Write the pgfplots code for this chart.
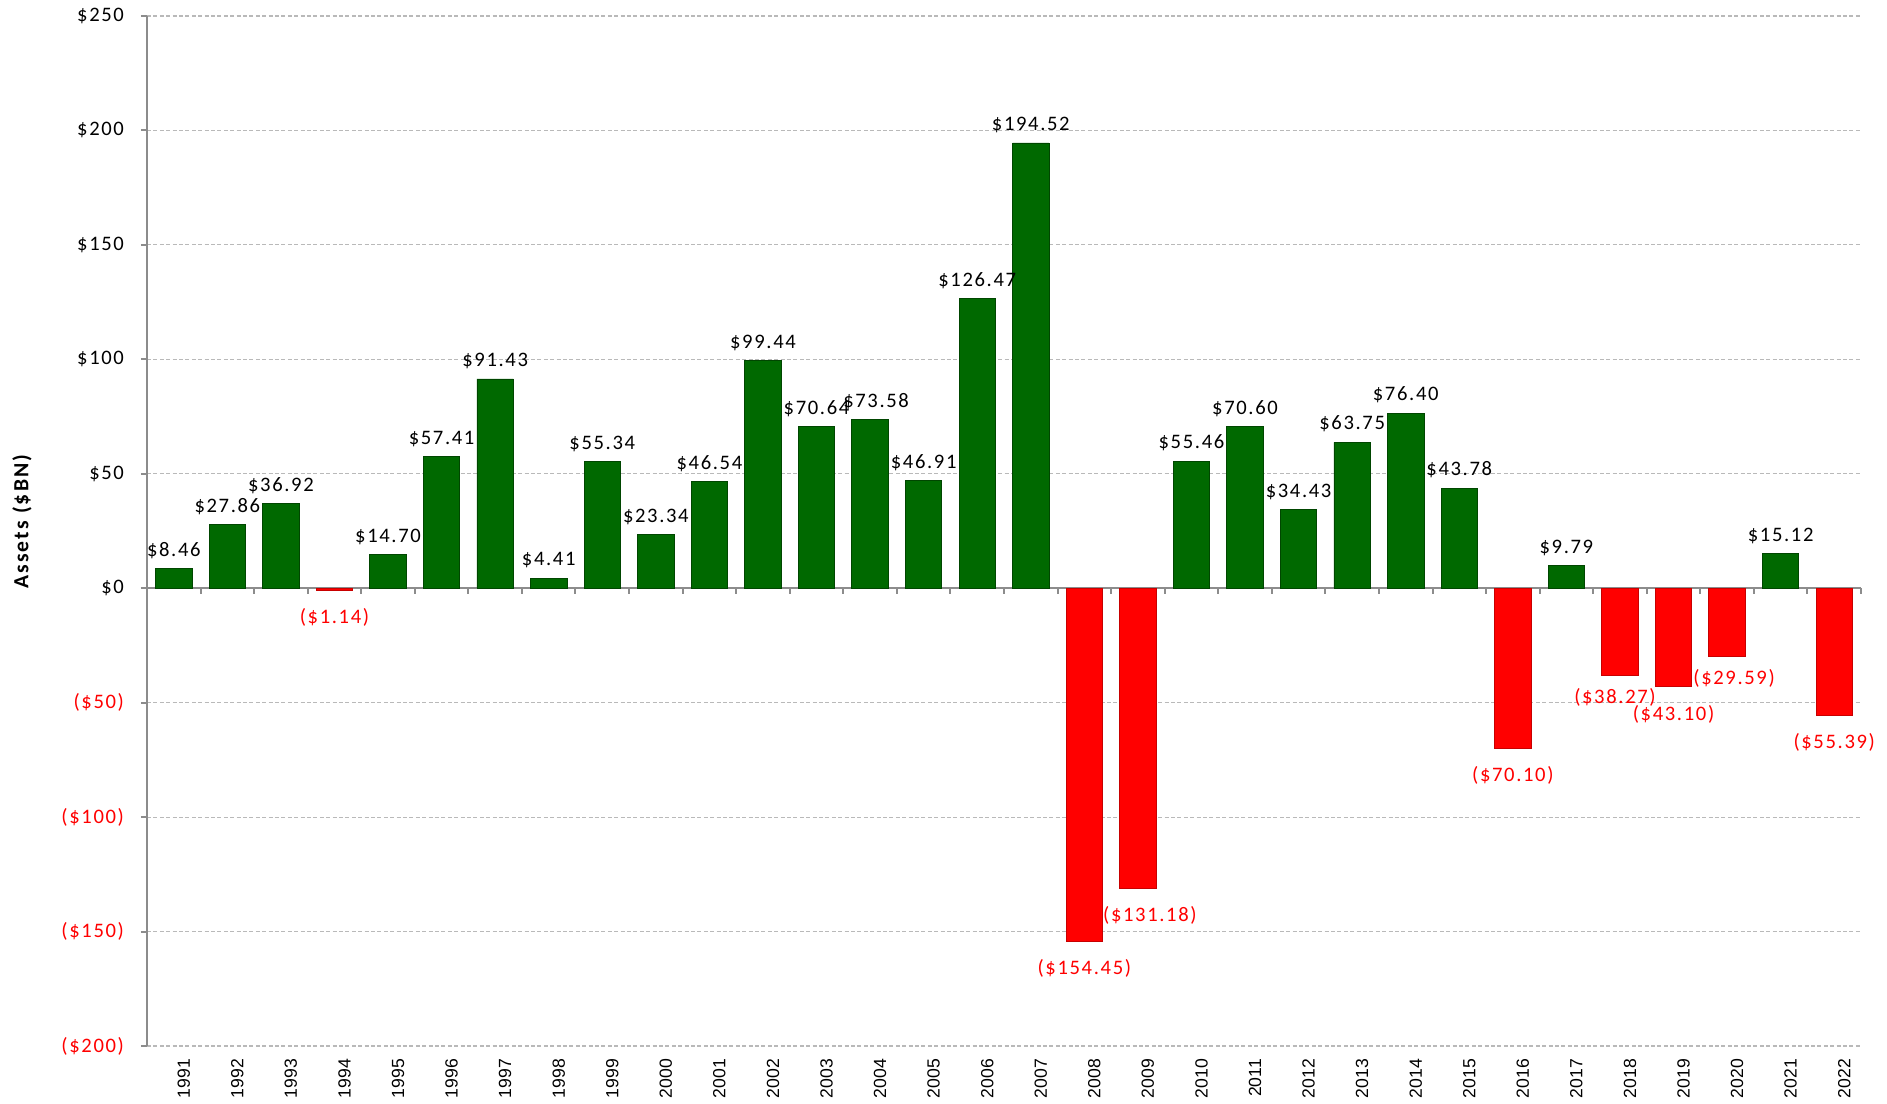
\documentclass[border=0pt]{standalone}
\usepackage{pgfplots}
\pgfplotsset{compat=1.18}
\usepackage{fontspec}
\setmainfont{Carlito}
\newfontfamily\lblfont{Carlito}[LetterSpace=8]
\newfontfamily\ylfont{Carlito}[LetterSpace=10]
\newfontfamily\xfont{Liberation Sans}
\definecolor{barG}{RGB}{0,105,0}
\definecolor{barGd}{RGB}{0,70,0}
\definecolor{barR}{RGB}{255,0,0}
\definecolor{barRd}{RGB}{200,0,0}
\definecolor{axgray}{RGB}{140,140,140}
\begin{document}
\begin{tikzpicture}
\path[use as bounding box] (-73.5pt,-29pt) rectangle (870pt,523pt);
\begin{axis}[
  at={(0,0)}, anchor=south west,
  scale only axis, width=857pt, height=515pt,
  xmin=-0.5, xmax=31.5, ymin=-200, ymax=250,
  clip=false,
  axis lines*=left, axis line style={-},
  x axis line style={draw=none},
  y axis line style={axgray, line width=1pt},
  xtick={0,...,31},
  xticklabels={1991,1992,1993,1994,1995,1996,1997,1998,1999,2000,2001,2002,2003,2004,2005,2006,2007,2008,2009,2010,2011,2012,2013,2014,2015,2016,2017,2018,2019,2020,2021,2022},
  xtick style={draw=none},
  xticklabel style={rotate=90, anchor=east, font=\xfont\fontsize{8.8}{10}\selectfont, yshift=-5pt},
  ytick={-200,-150,-100,-50,0,50,100,150,200,250},
  yticklabels={\textcolor{red}{(\$200)},\textcolor{red}{(\$150)},\textcolor{red}{(\$100)},\textcolor{red}{(\$50)},\$0,\$50,\$100,\$150,\$200,\$250},
  yticklabel style={font=\lblfont\fontsize{10.3}{12}\selectfont, xshift=-5pt},
  ytick pos=left, tick align=outside, major tick length=3pt,
  ytick style={axgray, line width=1pt},
  ymajorgrids, grid style={dash pattern=on 2pt off 1.2pt, gray!55, line width=0.6pt},
  extra y ticks={0}, extra y tick labels={},
  extra y tick style={grid style={solid, axgray, line width=1pt}},
  ylabel={\textbf{Assets (\$BN)}},
  ylabel style={at={(axis description cs:-0.073,0.51)}, anchor=center, font=\ylfont\fontsize{10.8}{13}\selectfont},
  nodes near coords,
  every node near coord/.append style={font=\lblfont\fontsize{10.3}{12}\selectfont},
]
\addplot[ybar, bar width=0.68, fill=barG, draw=barGd, line width=0.4pt,
  point meta=explicit symbolic,
  every node near coord/.append style={black, anchor=south, yshift=1.5pt}]
coordinates {
(0,8.46)[\$8.46] (1,27.86)[\$27.86] (2,36.92)[\$36.92] (4,14.70)[\$14.70]
(5,57.41)[\$57.41] (6,91.43)[\$91.43] (7,4.41)[\$4.41] (8,55.34)[\$55.34]
(9,23.34)[\$23.34] (10,46.54)[\$46.54] (11,99.44)[\$99.44] (12,70.64)[\$70.64]
(14,46.91)[\$46.91] (15,126.47)[\$126.47] (16,194.52)[\$194.52]
(19,55.46)[\$55.46] (20,70.60)[\$70.60] (21,34.43)[\$34.43] (22,63.75)[\$63.75]
(23,76.40)[\$76.40] (24,43.78)[\$43.78] (26,9.79)[\$9.79] (30,15.12)[\$15.12]
};
\addplot[ybar, bar width=0.68, fill=barG, draw=barGd, line width=0.4pt,
  point meta=explicit symbolic,
  every node near coord/.append style={black, anchor=south, yshift=1.5pt, xshift=3pt}]
coordinates {(13,73.58)[\$73.58]};
\addplot[ybar, bar width=0.68, fill=barR, draw=barRd, line width=0.4pt,
  point meta=explicit symbolic,
  every node near coord/.append style={red, anchor=north, yshift=-5.5pt}]
coordinates {
(3,-1.14)[{(\$1.14)}] (17,-154.45)[{(\$154.45)}]
(25,-70.10)[{(\$70.10)}] (28,-43.10)[{(\$43.10)}]
(31,-55.39)[{(\$55.39)}]
};
\addplot[ybar, bar width=0.68, fill=barR, draw=barRd, line width=0.4pt,
  point meta=explicit symbolic,
  every node near coord/.append style={red, anchor=north, yshift=-5.5pt, xshift=6pt}]
coordinates {(18,-131.18)[{(\$131.18)}]};
\addplot[ybar, bar width=0.68, fill=barR, draw=barRd, line width=0.4pt,
  point meta=explicit symbolic,
  every node near coord/.append style={red, anchor=north, yshift=-3pt, xshift=3.5pt}]
coordinates {(29,-29.59)[{(\$29.59)}]};
\addplot[ybar, bar width=0.68, fill=barR, draw=barRd, line width=0.4pt,
  point meta=explicit symbolic,
  every node near coord/.append style={red, anchor=north, yshift=-3pt, xshift=-2.5pt}]
coordinates {(27,-38.27)[{(\$38.27)}]};
\pgfplotsinvokeforeach{-0.5,0.5,...,31.5}{
  \draw[axgray, line width=1pt] (axis cs:#1,0) -- ++(0pt,-3pt);
}
\end{axis}
\end{tikzpicture}
\end{document}
